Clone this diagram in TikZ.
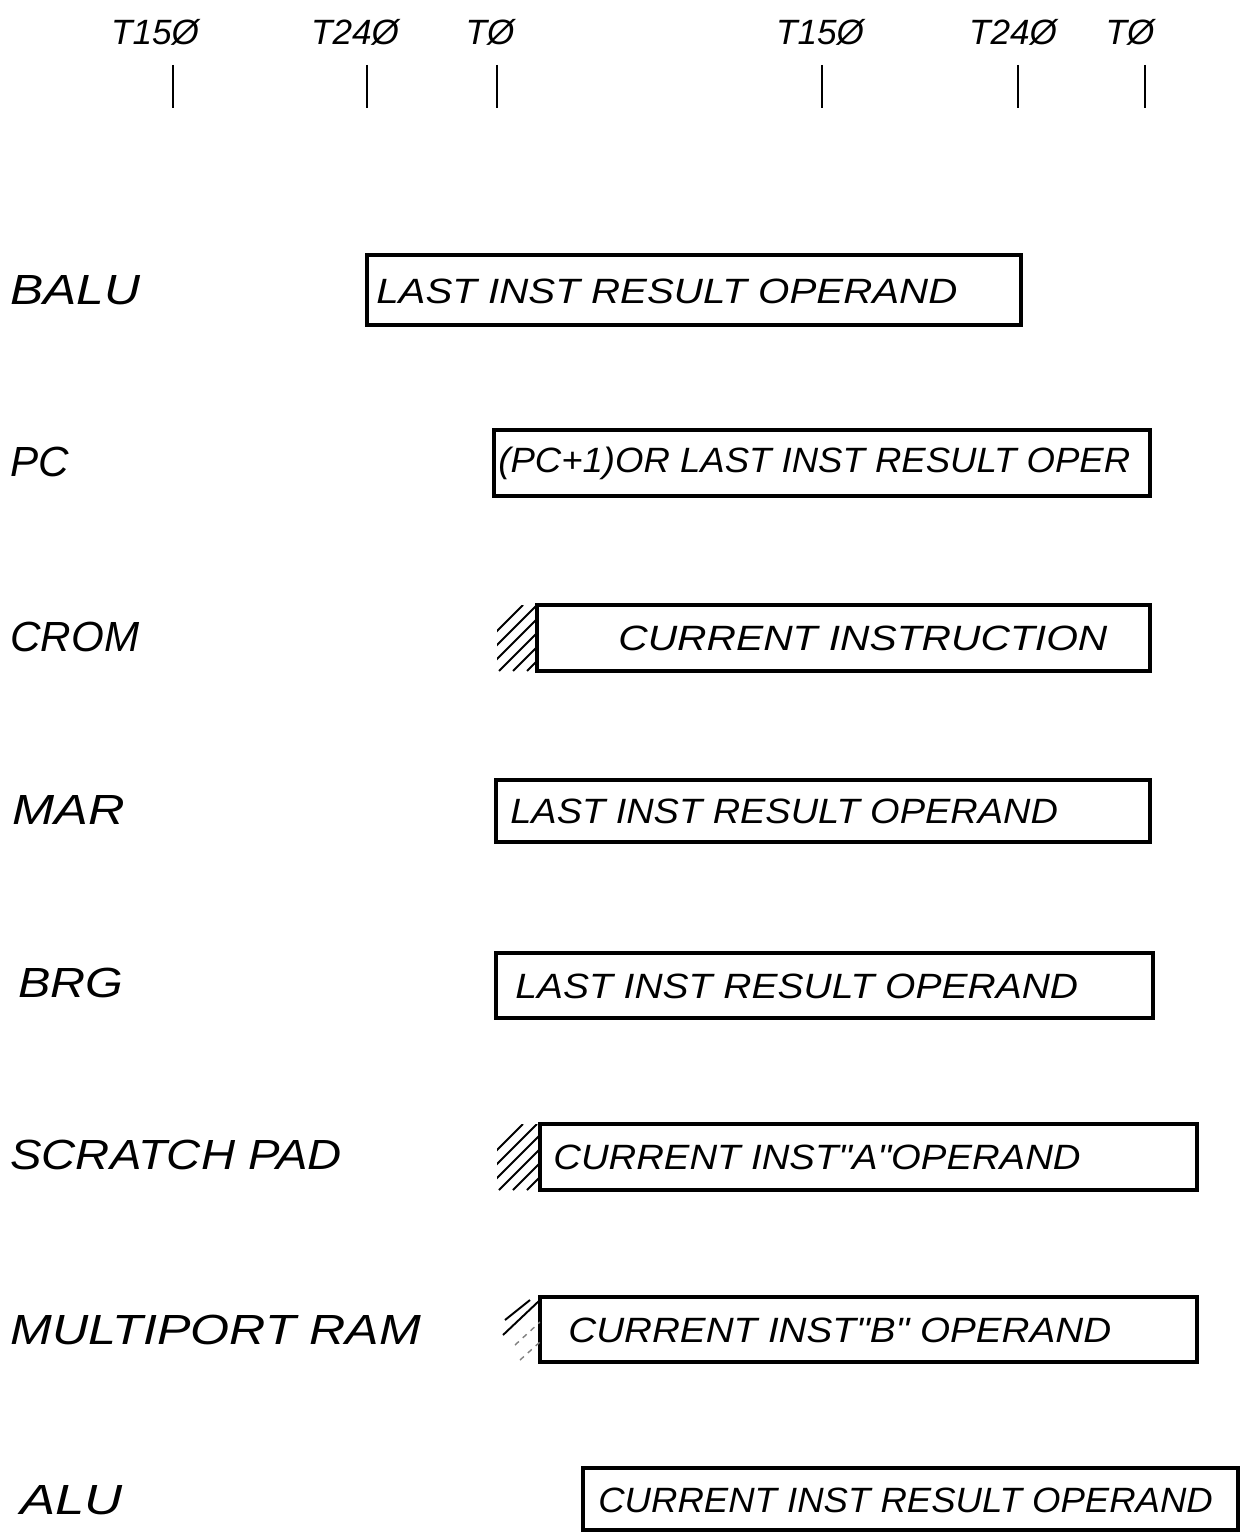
\documentclass[tikz,border=0pt]{standalone}
\usepackage{fontspec}
\setmainfont{Liberation Sans}[Ligatures=TeXOff]
\newcommand{\qq}{\symbol{34}}
\newcommand{\sx}[2]{\scalebox{#1}[1]{#2}}
\begin{document}
\begin{tikzpicture}[x=0.02cm,y=-0.02cm,
  box/.style={line width=2pt},
  tick/.style={line width=1.4pt},
  hatch/.style={line width=1.1pt},
  faint/.style={line width=0.8pt, dashed, gray},
  lbl/.style={anchor=west, inner sep=0pt, font=\fontsize{24}{26}\selectfont\itshape},
  txt/.style={anchor=west, inner sep=0pt, font=\fontsize{20}{22}\selectfont\itshape},
  tl/.style={inner sep=0pt, font=\fontsize{20}{22}\selectfont\itshape}]
\useasboundingbox (0,0) rectangle (1240,1534);
% time markers
\node[tl] (t1) at (155,32) {T15Ø};
\node[tl] (t2) at (355,32) {T24Ø};
\node[tl] (t3) at (490,32) {TØ};
\node[tl] (t4) at (820,32) {T15Ø};
\node[tl] (t5) at (1013,32) {T24Ø};
\node[tl] (t6) at (1130,32) {TØ};
\coordinate (k1a) at (173,65); \coordinate (k1b) at (173,108);
\coordinate (k2a) at (367,65); \coordinate (k2b) at (367,108);
\coordinate (k3a) at (497,65); \coordinate (k3b) at (497,108);
\coordinate (k4a) at (822,65); \coordinate (k4b) at (822,108);
\coordinate (k5a) at (1018,65); \coordinate (k5b) at (1018,108);
\coordinate (k6a) at (1145,65); \coordinate (k6b) at (1145,108);
\draw[tick] (k1a) -- (k1b); \draw[tick] (k2a) -- (k2b); \draw[tick] (k3a) -- (k3b);
\draw[tick] (k4a) -- (k4b); \draw[tick] (k5a) -- (k5b); \draw[tick] (k6a) -- (k6b);
% row labels
\node[lbl] (lbalu) at (10,290) {\sx{1.18}{BALU}};
\node[lbl] (lpc) at (10,462) {PC};
\node[lbl] (lcrom) at (10,637) {CROM};
\node[lbl] (lmar) at (12,810) {\sx{1.2}{MAR}};
\node[lbl] (lbrg) at (18,983) {\sx{1.15}{BRG}};
\node[lbl] (lsp) at (10,1155) {\sx{1.12}{SCRATCH PAD}};
\node[lbl] (lmp) at (10,1330) {\sx{1.19}{MULTIPORT RAM}};
\node[lbl] (lalu) at (20,1500) {\sx{1.25}{ALU}};
% boxes
\draw[box] (367,255) rectangle (1021,325);
\node[txt] (balu) at (376,291) {\sx{1.146}{LAST INST RESULT OPERAND}};
\draw[box] (494,430) rectangle (1150,496);
\node[txt] (pc) at (498,463) {\sx{1.04}{(PC+1)OR LAST INST RESULT OPER}};
\draw[box] (537,605) rectangle (1150,671);
\node[txt] (crom) at (618,638) {\sx{1.16}{CURRENT INSTRUCTION}};
\draw[box] (496,780) rectangle (1150,842);
\node[txt] (mar) at (510,811) {\sx{1.08}{LAST INST RESULT OPERAND}};
\draw[box] (496,953) rectangle (1153,1018);
\node[txt] (brg) at (515,986) {\sx{1.11}{LAST INST RESULT OPERAND}};
\draw[box] (540,1124) rectangle (1197,1190);
\node[txt] (sp) at (553,1157) {\sx{1.09}{CURRENT INST\qq A\qq OPERAND}};
\draw[box] (540,1297) rectangle (1197,1362);
\node[txt] (mp) at (568,1330) {\sx{1.1}{CURRENT INST\qq B\qq\ OPERAND}};
\draw[box] (583,1468) rectangle (1238,1530);
\node[txt] (alu) at (598,1500) {\sx{1.04}{CURRENT INST RESULT OPERAND}};
% hatching
\begin{scope}
\clip (497,605) rectangle (537,671);
\foreach \s in {0,14,...,112} \draw[hatch] (497+\s-40,671) -- (497+\s+26,605);
\end{scope}
\begin{scope}
\clip (497,1124) rectangle (540,1190);
\foreach \s in {0,14,...,112} \draw[hatch] (497+\s-40,1190) -- (497+\s+26,1124);
\end{scope}
\begin{scope}
\clip (497,1297) rectangle (540,1362);
\draw[hatch] (505,1320) -- (530,1300);
\draw[hatch] (503,1335) -- (540,1300);
\draw[faint] (515,1345) -- (540,1322);
\draw[faint] (520,1360) -- (540,1342);
\end{scope}
\end{tikzpicture}
\end{document}
